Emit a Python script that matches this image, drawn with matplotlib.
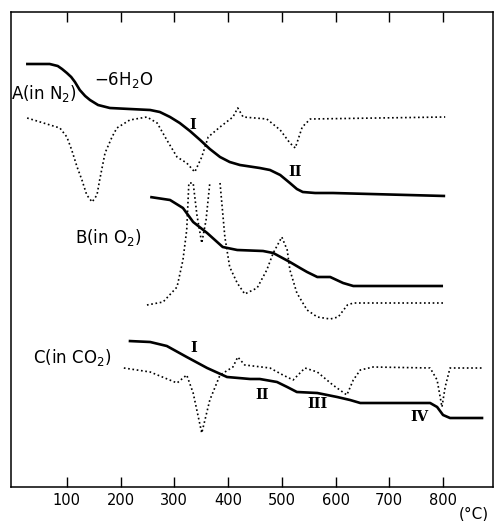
import matplotlib
matplotlib.use("Agg")
import matplotlib.pyplot as plt
import numpy as np

# temperature (deg C) and chart deflection (downward, arbitrary chart units)
a_tg_t = [24, 68, 83, 91, 100, 108, 115, 124, 134, 143, 158, 180, 217, 255, 273, 292, 310,
          329, 348, 366, 385, 403, 422, 459, 478, 497, 515, 528, 539, 562, 595, 804]
a_tg_y = [64, 64, 66, 69, 73, 77, 82, 90, 96, 100, 105, 108, 109, 110, 112, 117, 123,
          131, 140, 149, 157, 162, 165, 168, 170, 175, 183, 189, 192, 193, 193, 196]

a_dta_t = [26, 87, 100, 109, 119, 128, 137, 147, 156, 161, 171, 184, 193, 217, 249, 268,
           286, 305, 323, 338, 351, 363, 385, 409, 418, 428, 472, 497, 515, 525, 538, 553, 804]
a_dta_y = [118, 128, 137, 150, 167, 180, 195, 202, 195, 180, 153, 137, 128, 120, 117, 123,
           140, 157, 163, 172, 157, 137, 127, 117, 108, 117, 119, 130, 143, 148, 127, 119, 117]

b_tg_t = [255, 292, 316, 335, 361, 390, 417, 465, 484, 515, 534, 547, 566, 590, 614, 633, 800]
b_tg_y = [197, 200, 208, 222, 233, 247, 250, 251, 253, 262, 268, 272, 277, 277, 283, 286, 286]

b_dta_t = [249, 279, 305, 316, 323, 327, 335, 342, 351, 359, 366, np.nan, 385, 394, 403,
           417, 431, 454, 472, 484, 500, 510, 515, 528, 547, 566, 590, 605, 622, 633, 800]
b_dta_y = [305, 302, 287, 260, 230, 183, 183, 215, 243, 220, 183, np.nan, 183, 237, 267,
           283, 294, 288, 270, 253, 237, 250, 270, 293, 310, 317, 319, 317, 305, 303, 303]

c_tg_t = [215, 255, 286, 323, 361, 398, 441, 459, 491, 510, 528, 566, 603, 627,
          646, 776, 789, 800, 813, 875]
c_tg_y = [341, 342, 346, 357, 368, 377, 379, 379, 382, 387, 392, 393, 397, 400,
          403, 403, 407, 415, 418, 418]

c_dta_t = [206, 255, 305, 323, 335, 351, 366, 385, 409, 418, 431, 478, 502, 521,
           543, 566, 595, 621, 633, 646, 670, 776, 789, 798, 804, 813, 875]
c_dta_y = [368, 372, 383, 375, 393, 433, 400, 375, 367, 357, 365, 368, 375, 380,
           368, 372, 385, 395, 380, 370, 367, 368, 380, 407, 387, 368, 368]

xticks = [100, 200, 300, 400, 500, 600, 700, 800]

fig = plt.figure(figsize=(4.97, 5.21), dpi=100)
ax = fig.add_axes([11 / 497, 34 / 521, 482 / 497, 475 / 521])

tg_style = dict(color="black", lw=1.9, solid_capstyle="butt", solid_joinstyle="round")
dta_style = dict(color="black", lw=1.2, linestyle=(0, (1, 1.6)))

ax.plot(a_tg_t, a_tg_y, **tg_style)
ax.plot(a_dta_t, a_dta_y, **dta_style)
ax.plot(b_tg_t, b_tg_y, **tg_style)
ax.plot(b_dta_t, b_dta_y, **dta_style)
ax.plot(c_tg_t, c_tg_y, **tg_style)
ax.plot(c_dta_t, c_dta_y, **dta_style)

ax.set_xlim(-4, 893)
ax.set_ylim(487, 12)
ax.set_xticks(xticks)
ax.set_xticklabels([str(t) for t in xticks], fontsize=10.5)
ax.set_yticks([])
ax.tick_params(axis="x", direction="in", length=7, width=1.0, top=True, pad=4)
for sp in ax.spines.values():
    sp.set_linewidth(1.1)

label_kw = dict(fontsize=12, ha="center", va="center")
ax.text(57, 93, "A(in N$_2$)", **label_kw)
ax.text(205, 80, "\u22126H$_2$O", **label_kw)
ax.text(177, 237, "B(in O$_2$)", **label_kw)
ax.text(110, 358, "C(in CO$_2$)", **label_kw)

roman_kw = dict(fontsize=10.5, ha="center", va="center", family="DejaVu Serif", weight="bold")
ax.text(335, 125, "I", **roman_kw)
ax.text(525, 172, "II", **roman_kw)
ax.text(336, 348, "I", **roman_kw)
ax.text(463, 395, "II", **roman_kw)
ax.text(566, 404, "III", **roman_kw)
ax.text(757, 417, "IV", **roman_kw)

ax.text(858, 514, "(\u00b0C)", fontsize=11, ha="center", va="center")

fig.savefig("out.png", dpi=100)
